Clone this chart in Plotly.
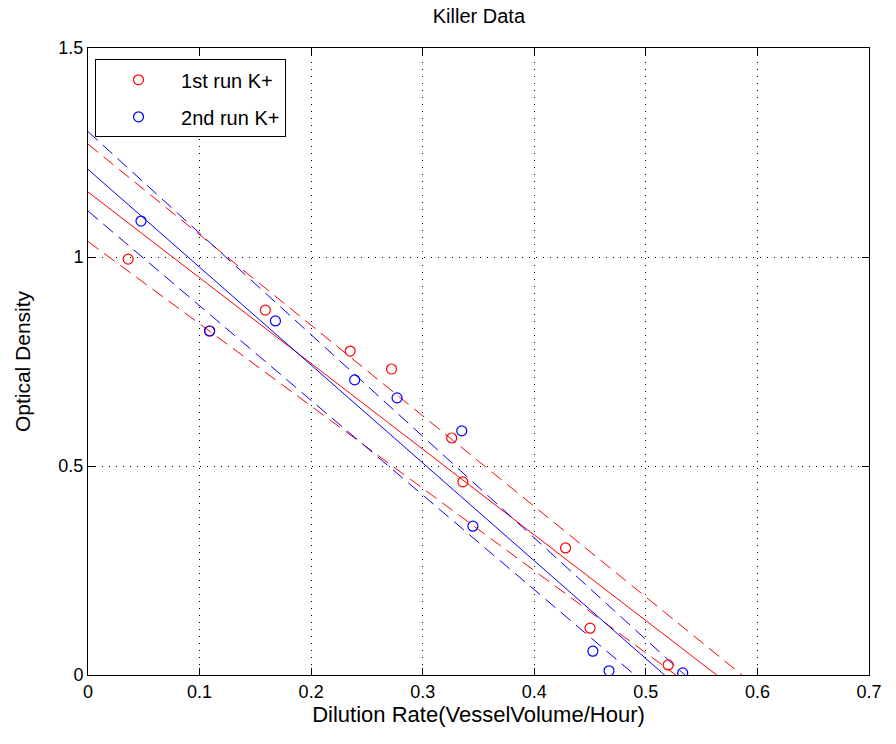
import numpy as np
import plotly.graph_objects as go

# Measured dilution rate (vessel volume / hour) and optical density, two runs
run1_rate = [0.036, 0.109, 0.159, 0.235, 0.272, 0.326, 0.336, 0.428, 0.450, 0.520]
run1_od = [0.995, 0.823, 0.873, 0.775, 0.732, 0.567, 0.462, 0.304, 0.112, 0.024]

run2_rate = [0.0475, 0.109, 0.168, 0.239, 0.277, 0.335, 0.345, 0.4525, 0.467, 0.533]
run2_od = [1.086, 0.823, 0.847, 0.706, 0.663, 0.584, 0.356, 0.057, 0.010, 0.005]

# Band lines around each fit, given as OD at the two ends of the rate span
band_rate = [0.0, 0.6]
run1_upper = [1.270, -0.030]
run1_lower = [1.037, -0.144]
run2_upper = [1.300, -0.158]
run2_lower = [1.110, -0.249]

x_ticks = [0, 0.1, 0.2, 0.3, 0.4, 0.5, 0.6, 0.7]
x_tick_text = ["0", "0.1", "0.2", "0.3", "0.4", "0.5", "0.6", "0.7"]
y_ticks = [0, 0.5, 1, 1.5]
y_tick_text = ["0", "0.5", "1", "1.5"]

RED = "#ff0000"
BLUE = "#0000ff"
FONT = "Liberation Sans, Arial, sans-serif"

fit_x = np.linspace(0.0, 0.6, 61)

fig = go.Figure()

for rate, od, upper, lower, color in [
    (run1_rate, run1_od, run1_upper, run1_lower, RED),
    (run2_rate, run2_od, run2_upper, run2_lower, BLUE),
]:
    slope, intercept = np.polyfit(rate, od, 1)
    fig.add_trace(go.Scatter(
        x=fit_x, y=intercept + slope * fit_x, mode="lines",
        line=dict(color=color, width=1), showlegend=False, hoverinfo="skip"))
    for band in (upper, lower):
        fig.add_trace(go.Scatter(
            x=band_rate, y=band, mode="lines",
            line=dict(color=color, width=1, dash="13px,7px"),
            showlegend=False, hoverinfo="skip"))

for rate, od, color, name in [
    (run1_rate, run1_od, RED, "1st run K+"),
    (run2_rate, run2_od, BLUE, "2nd run K+"),
]:
    fig.add_trace(go.Scatter(
        x=rate, y=od, mode="markers", name=name, legendgroup=name,
        marker=dict(symbol="circle-open", size=10, color=color,
                    line=dict(color=color, width=1.2))))

axis_common = dict(
    showline=True, linecolor="black", linewidth=1, mirror="ticks",
    ticks="inside", ticklen=7, tickcolor="black", tickwidth=1,
    showgrid=True, gridcolor="black", gridwidth=1, griddash="1px,6px",
    zeroline=False, tickfont=dict(family=FONT, size=18, color="black"),
)

fig.update_xaxes(range=[0, 0.7], tickvals=x_ticks, ticktext=x_tick_text,
                 title=dict(text="Dilution Rate(VesselVolume/Hour)",
                            font=dict(family=FONT, size=22, color="black"),
                            standoff=2),
                 **axis_common)
fig.update_yaxes(range=[0, 1.5], tickvals=y_ticks, ticktext=y_tick_text,
                 title=dict(text="Optical Density",
                            font=dict(family=FONT, size=21, color="black"),
                            standoff=22),
                 **axis_common)

fig.update_layout(
    width=896, height=744,
    margin=dict(l=88, r=27, t=48, b=69),
    paper_bgcolor="white", plot_bgcolor="white",
    title=dict(text="Killer Data", x=0.5345, xanchor="center", y=0.988,
               yanchor="top", font=dict(family=FONT, size=20, color="black")),
    legend=dict(x=0.009, y=0.982, xanchor="left", yanchor="top",
                bgcolor="white", bordercolor="black", borderwidth=1,
                font=dict(family=FONT, size=20, color="black"),
                traceorder="grouped", tracegroupgap=8, itemwidth=75),
    showlegend=True,
)

fig.write_html("out.html")
